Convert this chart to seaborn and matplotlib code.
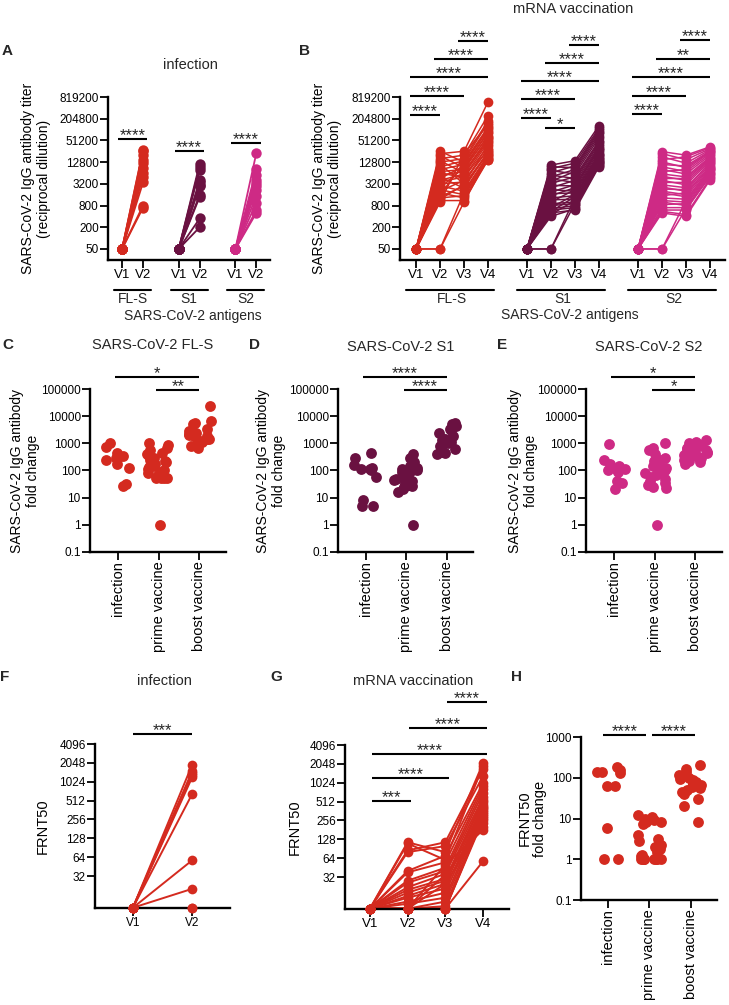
import matplotlib
matplotlib.use("Agg")
import matplotlib.pyplot as plt
import numpy as np
import pandas as pd
import seaborn as sns
from matplotlib.ticker import NullLocator

# ---------------- data ----------------
antigens = ["FL-S", "S1", "S2"]
antigen_colors = {"FL-S": "#D42A1F", "S1": "#6A1141", "S2": "#CE2A85"}
visits_inf = ["V1", "V2"]
visits_vac = ["V1", "V2", "V3", "V4"]
titer_ticks = [50, 200, 800, 3200, 12800, 51200, 204800, 819200]

# (A) infection titers
inf_V1 = [50, 50, 50, 50, 50, 50, 50, 50, 50, 50, 50]
inf_FLS_V2 = [28000, 25600, 20000, 15000, 12000, 9000, 6500, 5000, 3500, 800, 700]
inf_S1_V2 = [11500, 9500, 7700, 4000, 3600, 3000, 2800, 1600, 1400, 350, 200]
inf_S2_V2 = [23000, 8000, 5600, 4100, 3400, 2700, 2200, 1500, 950, 600, 500]

# (B) mRNA vaccination titers
vac_V1 = [50] * 30
vac_FLS_V2 = [25600, 22000, 19000, 16000, 14000, 12800, 11000, 9500, 8000, 7000, 6400, 5600, 5000, 4500, 4000,
              3600, 3200, 2800, 2500, 2200, 2000, 1800, 1600, 1400, 1300, 1200, 1100, 1000, 50, 50]
vac_FLS_V3 = [12800, 25600, 9000, 20000, 6400, 16000, 3200, 14000, 11000, 8000, 4800, 7000, 2400, 10000, 6000,
              5000, 3600, 2000, 9000, 1600, 4000, 1300, 12000, 2800, 1500, 3000, 1100, 22000, 1800, 1000]
vac_FLS_V4 = [120000, 600000, 90000, 250000, 60000, 180000, 40000, 160000, 100000, 70000, 35000, 55000, 25000,
              80000, 50000, 45000, 30000, 20000, 65000, 18000, 28000, 15000, 110000, 22000, 16000, 24000, 14700,
              140000, 20000, 17000]
vac_S1_V2 = [10600, 9500, 8500, 7500, 6500, 5600, 5000, 4400, 3800, 3300, 2900, 2500, 2200, 1900, 1700,
             1500, 1300, 1150, 1000, 900, 800, 700, 650, 600, 550, 500, 450, 400, 50, 50]
vac_S1_V3 = [14000, 9000, 12000, 6000, 10000, 4500, 8000, 3500, 7000, 5000, 2800, 4000, 2000, 3000, 1800,
             2500, 1500, 1200, 2200, 1000, 900, 1600, 800, 700, 1400, 600, 1100, 650, 900, 1300]
vac_S1_V4 = [130000, 90000, 110000, 60000, 100000, 45000, 80000, 35000, 70000, 50000, 30000, 40000, 22000,
             32000, 20000, 28000, 17000, 15000, 25000, 13000, 12000, 18000, 11000, 10000, 16000, 9500, 14000,
             12500, 10500, 20000]
vac_S2_V2 = [25000, 22000, 18000, 15000, 13000, 11000, 9500, 8000, 7000, 6000, 5200, 4500, 4000, 3500, 3000,
             2600, 2300, 2000, 1800, 1500, 1300, 1100, 1000, 850, 700, 600, 550, 500, 50, 50]
vac_S2_V3 = [20000, 15000, 12000, 18000, 9000, 10000, 7000, 6000, 8000, 5000, 4000, 4500, 3000, 3500, 2500,
             2000, 2200, 1600, 1400, 1800, 1200, 1000, 800, 900, 700, 600, 450, 400, 1100, 650]
vac_S2_V4 = [34000, 30000, 28000, 32000, 25000, 26000, 22000, 20000, 24000, 18000, 16000, 17000, 14000, 15000,
             12000, 11000, 13000, 10000, 9000, 9500, 8000, 7500, 6500, 7000, 6000, 5500, 4500, 4100, 8500, 5000]

# (C-E) fold changes
fc_groups = ["infection", "prime vaccine", "boost vaccine"]
fc_ticks = [0.1, 1, 10, 100, 1000, 10000, 100000]
fc_FLS = {"infection": [1050, 720, 450, 350, 300, 260, 240, 170, 120, 32, 28],
          "prime vaccine": [1000, 850, 700, 550, 450, 400, 350, 300, 250, 220, 200, 180, 150, 130, 110, 100, 90,
                            80, 70, 55, 55, 55, 55, 1],
          "boost vaccine": [24000, 6500, 5500, 5000, 3500, 2800, 2400, 2200, 2000, 2000, 1900, 1800, 1500, 1400,
                            1200, 1100, 900, 800, 650]}
fc_S1 = {"infection": [450, 300, 160, 120, 115, 110, 100, 58, 8, 5, 5],
         "prime vaccine": [420, 280, 200, 150, 120, 110, 100, 100, 90, 80, 70, 60, 50, 45, 40, 35, 30, 28, 25,
                           20, 16, 1],
         "boost vaccine": [5500, 5000, 4200, 3500, 3000, 2500, 1800, 1500, 1400, 1300, 1200, 1100, 1000, 900,
                           800, 600, 500, 450, 400]}
fc_S2 = {"infection": [950, 250, 170, 150, 115, 105, 100, 90, 42, 35, 20],
         "prime vaccine": [1050, 650, 550, 400, 300, 250, 220, 200, 180, 150, 130, 120, 100, 90, 80, 70, 60, 50,
                           40, 35, 30, 25, 22, 1],
         "boost vaccine": [1300, 1100, 1000, 900, 800, 700, 650, 600, 550, 500, 450, 400, 380, 350, 300, 280,
                           250, 220, 200, 170]}

# (F-H) neutralisation
frnt_ticks = [32, 64, 128, 256, 512, 1024, 2048, 4096]
frnt_inf_V1 = [10, 10, 10, 10, 10, 10, 10, 10, 10, 10]
frnt_inf_V2 = [1900, 1500, 1400, 1300, 1200, 650, 57, 20, 10, 10]
frnt_vac_V1 = [10] * 24
frnt_vac_V2 = [115, 110, 85, 80, 40, 38, 28, 26, 22, 20, 18, 16, 15, 13, 12, 10, 10, 10, 10, 10, 10, 10, 10, 10]
frnt_vac_V3 = [80, 60, 115, 100, 70, 55, 45, 40, 36, 30, 28, 25, 21, 18, 15, 13, 11, 10, 10, 10, 25, 35, 50, 10]
frnt_vac_V4 = [2100, 1900, 1700, 1300, 1000, 900, 800, 700, 600, 550, 500, 450, 420, 400, 380, 350, 320, 300,
               280, 260, 230, 200, 180, 57]
fold_ticks_H = [0.1, 1, 10, 100, 1000]
frnt_fc = {"infection": [185, 155, 140, 135, 130, 63, 63, 5.7, 1, 1],
           "prime vaccine": [12, 11, 10, 9, 8, 8, 7.5, 4, 3.2, 2.8, 2.3, 2, 1.8, 1.5, 1.3, 1.2, 1, 1, 1, 1, 1,
                             1, 1, 1],
           "boost vaccine": [200, 160, 140, 120, 100, 95, 90, 80, 75, 70, 65, 65, 60, 55, 50, 45, 40, 30, 20, 8]}

# significance annotations: (group, a, b, label)
sig_A = [("FL-S", "V1", "V2", "****"), ("S1", "V1", "V2", "****"), ("S2", "V1", "V2", "****")]
sig_B = [("FL-S", "V1", "V2", "****"), ("FL-S", "V1", "V3", "****"), ("FL-S", "V1", "V4", "****"),
         ("FL-S", "V2", "V4", "****"), ("FL-S", "V3", "V4", "****"),
         ("S1", "V1", "V2", "****"), ("S1", "V2", "V3", "*"), ("S1", "V1", "V3", "****"),
         ("S1", "V1", "V4", "****"), ("S1", "V2", "V4", "****"), ("S1", "V3", "V4", "****"),
         ("S2", "V1", "V2", "****"), ("S2", "V1", "V3", "****"), ("S2", "V1", "V4", "****"),
         ("S2", "V2", "V4", "**"), ("S2", "V3", "V4", "****")]
sig_CDE = {"FL-S": [("infection", "boost vaccine", "*"), ("prime vaccine", "boost vaccine", "**")],
           "S1": [("infection", "boost vaccine", "****"), ("prime vaccine", "boost vaccine", "****")],
           "S2": [("infection", "boost vaccine", "*"), ("prime vaccine", "boost vaccine", "*")]}
sig_F = [("V1", "V2", "***")]
sig_G = [("V3", "V4", "****"), ("V2", "V4", "****"), ("V1", "V4", "****"), ("V1", "V3", "****"),
         ("V1", "V2", "***")]
sig_H = [("infection", "prime vaccine", "****"), ("prime vaccine", "boost vaccine", "****")]

# ---------------- layout / style ----------------
sns.set_theme(style="ticks")
plt.rcParams["font.family"] = ["Liberation Sans", "DejaVu Sans"]
plt.rcParams["axes.unicode_minus"] = False
np.random.seed(11)  # reproducible strip jitter

W, H = 729, 1005
fig = plt.figure(figsize=(W / 100, H / 100), dpi=100)
fig.patch.set_facecolor("white")

TICK_FS = 8.5
LAB_FS = 10
TITLE_FS = 10.5
SIG_FS = 12


def add_ax(box):
    l, t, r, b = box
    return fig.add_axes([l / W, 1 - b / H, (r - l) / W, (b - t) / H])


def style(ax):
    sns.despine(ax=ax)
    for s in ["left", "bottom"]:
        ax.spines[s].set_linewidth(1.7)
        ax.spines[s].set_color("black")
    ax.tick_params(axis="both", which="major", length=5.5, width=1.3, color="black",
                   labelcolor="black", pad=1.2, labelsize=TICK_FS)
    ax.tick_params(which="minor", length=0)
    ax.set_facecolor("white")
    ax.grid(False)


def yaxis_log(ax, ticks, lim, base=10):
    ax.set_yscale("log", base=base)
    ax.set_ylim(*lim)
    ax.set_yticks(ticks)
    ax.set_yticklabels([("%g" % v) for v in ticks])
    ax.yaxis.set_minor_locator(NullLocator())


def figtext(xp, yp, s, **kw):
    fig.text(xp / W, 1 - yp / H, s, **kw)


def ylab(ax, box, s, xp, fs=LAB_FS):
    l, t, r, b = box
    ax.set_ylabel(s, fontsize=fs, linespacing=1.1, color="black")
    ax.yaxis.label.set_verticalalignment("center")
    ax.yaxis.set_label_coords((xp - l) / (r - l), 0.5)


def sig(ax, box, x0, x1, yp, label):
    l, t, r, b = box
    tr = ax.get_xaxis_transform()
    yf = (b - yp) / (b - t)
    ax.plot([x0, x1], [yf, yf], transform=tr, color="black", lw=1.5, clip_on=False,
            solid_capstyle="butt")
    ax.text((x0 + x1) / 2, (b - (yp + 1.5)) / (b - t), label, transform=tr, ha="center",
            va="baseline", fontsize=SIG_FS, clip_on=False)


def under(ax, box, x0, x1, yp):
    l, t, r, b = box
    tr = ax.get_xaxis_transform()
    yf = (b - yp) / (b - t)
    ax.plot([x0, x1], [yf, yf], transform=tr, color="black", lw=1.5, clip_on=False)


def paired(ax, df, color, ms, lw):
    for key, sub in df.groupby("antigen", sort=False):
        c = antigen_colors.get(key, color)
        sns.lineplot(data=sub, x="pos", y="val", units="pid", estimator=None, color=c, lw=lw,
                     ax=ax, legend=False, sort=True)
        sns.scatterplot(data=sub, x="pos", y="val", color=c, s=ms ** 2, linewidth=0, ax=ax,
                        legend=False, clip_on=False, zorder=3)


# ---------------- panel A ----------------
boxA = (108, 97, 270, 260)
axA = add_ax(boxA)
style(axA)
A_offsets = {"FL-S": 0.0, "S1": 2.7, "S2": 5.4}
A_series = {"FL-S": inf_FLS_V2, "S1": inf_S1_V2, "S2": inf_S2_V2}
rows = []
for ag in antigens:
    for i, (v1, v2) in enumerate(zip(inf_V1, A_series[ag])):
        rows.append((ag, f"{ag}-{i}", A_offsets[ag] + 0, v1))
        rows.append((ag, f"{ag}-{i}", A_offsets[ag] + 1, v2))
dfA = pd.DataFrame(rows, columns=["antigen", "pid", "pos", "val"])
yaxis_log(axA, titer_ticks, (24.7, 819200), base=2)
paired(axA, dfA, None, 7.5, 1.3)
axA.set_xlim(-0.67, 7.05)
axA.set_xticks([A_offsets[ag] + k for ag in antigens for k in range(2)])
axA.set_xticklabels(visits_inf * 3, fontsize=9.5)
axA.set_xlabel("")
ylab(axA, boxA, "SARS-CoV-2 IgG antibody titer\n(reciprocal dilution)", 36)
for ag in antigens:
    under(axA, boxA, A_offsets[ag] - 0.38, A_offsets[ag] + 1.38, 290)
    axA.text(A_offsets[ag] + 0.5, (260 - 299) / 163, ag, transform=axA.get_xaxis_transform(),
             ha="center", va="center", fontsize=10)
for (ag, a, b, lab), yp in zip(sig_A, [139, 151, 143]):
    sig(axA, boxA, A_offsets[ag] + visits_inf.index(a) - 0.2,
        A_offsets[ag] + visits_inf.index(b) + 0.2, yp, lab)
figtext(193, 316, "SARS-CoV-2 antigens", ha="center", va="center", fontsize=LAB_FS)
figtext(190, 65, "infection", ha="center", va="center", fontsize=TITLE_FS)
figtext(7, 51, "A", ha="center", va="center", fontsize=11, fontweight="bold")

# ---------------- panel B ----------------
boxB = (400, 97, 725, 260)
axB = add_ax(boxB)
style(axB)
B_offsets = {"FL-S": 0.0, "S1": 4.62, "S2": 9.25}
B_series = {"FL-S": [vac_V1, vac_FLS_V2, vac_FLS_V3, vac_FLS_V4],
            "S1": [vac_V1, vac_S1_V2, vac_S1_V3, vac_S1_V4],
            "S2": [vac_V1, vac_S2_V2, vac_S2_V3, vac_S2_V4]}
rows = []
for ag in antigens:
    for k, series in enumerate(B_series[ag]):
        for i, v in enumerate(series):
            rows.append((ag, f"{ag}-{i}", B_offsets[ag] + k, v))
dfB = pd.DataFrame(rows, columns=["antigen", "pid", "pos", "val"])
yaxis_log(axB, titer_ticks, (24.7, 819200), base=2)
paired(axB, dfB, None, 7.0, 1.1)
axB.set_xlim(-0.67, 12.875)
axB.set_xticks([B_offsets[ag] + k for ag in antigens for k in range(4)])
axB.set_xticklabels(visits_vac * 3, fontsize=9.5)
axB.set_xlabel("")
ylab(axB, boxB, "SARS-CoV-2 IgG antibody titer\n(reciprocal dilution)", 327)
for ag in antigens:
    under(axB, boxB, B_offsets[ag] - 0.4, B_offsets[ag] + 3.25, 290)
    axB.text(B_offsets[ag] + 1.5, (260 - 299) / 163, ag, transform=axB.get_xaxis_transform(),
             ha="center", va="center", fontsize=10)
B_sig_y = [115, 96, 77, 59, 41, 118, 128, 99, 81, 63, 45, 114, 96, 77, 59, 40]
for (ag, a, b, lab), yp in zip(sig_B, B_sig_y):
    sig(axB, boxB, B_offsets[ag] + visits_vac.index(a) - 0.25,
        B_offsets[ag] + visits_vac.index(b), yp, lab)
figtext(570, 315, "SARS-CoV-2 antigens", ha="center", va="center", fontsize=LAB_FS)
figtext(573, 9, "mRNA vaccination", ha="center", va="center", fontsize=TITLE_FS)
figtext(305, 51, "B", ha="center", va="center", fontsize=11, fontweight="bold")


# ---------------- panels C-E ----------------
def strip_panel(box, data, color, yticks, ylim, size=7.8, jitter=0.3):
    ax = add_ax(box)
    style(ax)
    rows = [(g, v) for g in fc_groups for v in data[g]]
    df = pd.DataFrame(rows, columns=["group", "fc"])
    sns.stripplot(data=df, x="group", y="fc", order=fc_groups, color=color, size=size,
                  linewidth=0, ax=ax, log_scale=True, jitter=jitter, clip_on=False, zorder=3)
    ax.set_yscale("log")
    ax.set_ylim(*ylim)
    ax.set_yticks(yticks)
    ax.set_yticklabels([("%g" % v) for v in yticks])
    ax.yaxis.set_minor_locator(NullLocator())
    ax.set_xticks(range(3))
    ax.set_xticklabels(fc_groups, rotation=90, fontsize=10.5)
    ax.set_xlabel("")
    return ax


cde = [("FL-S", fc_FLS, (90, 389, 226, 552), 25, (153, 345), "SARS-CoV-2 FL-S", (8, 345), "C"),
       ("S1", fc_S1, (338, 389, 473, 552), 271, (401, 347), "SARS-CoV-2 S1", (255, 345), "D"),
       ("S2", fc_S2, (586, 389, 722, 552), 523, (649, 347), "SARS-CoV-2 S2", (502, 345), "E")]
for ag, data, box, ylx, tpos, title, lpos, letter in cde:
    ax = strip_panel(box, data, antigen_colors[ag], fc_ticks, (0.1, 100000))
    l, t, r, b = box
    ax.set_xlim(-0.68, 2.65)
    ylab(ax, box, "SARS-CoV-2 IgG antibody\nfold change", ylx)
    for (ga, gb, lab), yp in zip(sig_CDE[ag], [377, 390]):
        sig(ax, box, fc_groups.index(ga) - 0.06, fc_groups.index(gb), yp, lab)
    figtext(tpos[0], tpos[1], title, ha="center", va="center", fontsize=TITLE_FS)
    figtext(lpos[0], lpos[1], letter, ha="center", va="center", fontsize=11, fontweight="bold")

# ---------------- panel F ----------------
boxF = (95, 744, 230, 908)
axF = add_ax(boxF)
style(axF)
rows = []
for i, (v1, v2) in enumerate(zip(frnt_inf_V1, frnt_inf_V2)):
    rows.append(("F", f"f{i}", 0, v1))
    rows.append(("F", f"f{i}", 1, v2))
dfF = pd.DataFrame(rows, columns=["antigen", "pid", "pos", "val"])
yaxis_log(axF, frnt_ticks, (9.9, 4096), base=2)
paired(axF, dfF, antigen_colors["FL-S"], 7.0, 1.4)
axF.set_xlim(-0.64, 1.64)
axF.set_xticks([0, 1])
axF.set_xticklabels(visits_inf, fontsize=TICK_FS)
axF.set_xlabel("")
ylab(axF, boxF, "FRNT50", 43, fs=10.5)
for a, b, lab in sig_F:
    sig(axF, boxF, visits_inf.index(a), visits_inf.index(b), 734, lab)
figtext(164, 681, "infection", ha="center", va="center", fontsize=TITLE_FS)
figtext(5, 677, "F", ha="center", va="center", fontsize=11, fontweight="bold")

# ---------------- panel G ----------------
boxG = (345, 745, 509, 909)
axG = add_ax(boxG)
style(axG)
rows = []
for k, series in enumerate([frnt_vac_V1, frnt_vac_V2, frnt_vac_V3, frnt_vac_V4]):
    for i, v in enumerate(series):
        rows.append(("G", f"g{i}", k, v))
dfG = pd.DataFrame(rows, columns=["antigen", "pid", "pos", "val"])
yaxis_log(axG, frnt_ticks, (9.9, 4096), base=2)
paired(axG, dfG, antigen_colors["FL-S"], 7.0, 1.4)
axG.set_xlim(-0.66, 3.69)
axG.set_xticks(range(4))
axG.set_xticklabels(visits_vac, fontsize=9.5)
axG.set_xlabel("")
ylab(axG, boxG, "FRNT50", 295, fs=10.5)
for (a, b, lab), yp in zip(sig_G, [702, 728, 754, 778, 801]):
    sig(axG, boxG, visits_vac.index(a) + 0.05, visits_vac.index(b) + 0.1, yp, lab)
figtext(413, 681, "mRNA vaccination", ha="center", va="center", fontsize=TITLE_FS)
figtext(276, 677, "G", ha="center", va="center", fontsize=11, fontweight="bold")

# ---------------- panel H ----------------
boxH = (581, 737, 717, 900)
axH = strip_panel(boxH, frnt_fc, antigen_colors["FL-S"], fold_ticks_H, (0.1, 1000), jitter=0.3)
axH.set_xlim(-0.65, 2.63)
ylab(axH, boxH, "FRNT50\nfold change", 532, fs=10.5)
for (ga, gb, lab), (d0, d1) in zip(sig_H, [(-0.12, -0.08), (0.06, 0.1)]):
    sig(axH, boxH, fc_groups.index(ga) + d0, fc_groups.index(gb) + d1, 735, lab)
figtext(516, 677, "H", ha="center", va="center", fontsize=11, fontweight="bold")

fig.savefig("out.png", dpi=100, facecolor="white")
